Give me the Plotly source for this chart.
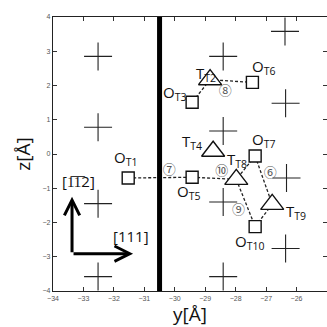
import plotly.graph_objects as go

# ---- data ----
cross_y = [-32.52, -32.52, -32.52, -32.52, -28.41, -28.41, -28.41, -28.41, -26.38, -26.36, -26.33, -26.36]
cross_z = [2.85, 0.78, -1.45, -3.58, 2.85, 0.67, -1.40, -3.58, 3.58, 1.48, -0.70, -2.76]

o_names = ["T1", "T3", "T5", "T6", "T7", "T10"]
o_y = [-31.53, -29.43, -29.43, -27.45, -27.36, -27.36]
o_z = [-0.70, 1.51, -0.68, 2.09, -0.06, -2.12]

t_names = ["T2", "T4", "T8", "T9"]
t_y = [-28.84, -28.74, -27.98, -26.80]
t_z = [2.17, 0.08, -0.74, -1.47]

# connections (dashed)
links = [("T1", "T5"), ("T5", "T8"), ("T2", "T6"), ("T2", "T3"),
         ("T7", "T8"), ("T8", "T10"), ("T7", "T9"), ("T9", "T10")]

circ_text = ["⑦", "⑧", "⑨", "⑥", "⑩"]
circ_y = [-30.18, -28.34, -27.91, -26.86, -28.46]
circ_z = [-0.49, 1.83, -1.66, -0.58, -0.53]

wall_y = -30.5
x_ticks = [-34, -33, -32, -31, -30, -29, -28, -27, -26, -25]
y_ticks = [-4, -3, -2, -1, 0, 1, 2, 3, 4]

arrow_origin = (-33.375, -2.91)
arrow_up_tip = (-33.375, -1.25)
arrow_right_tip = (-31.37, -2.91)

# ---- build ----
pos = {}
for n, a, b in zip(o_names, o_y, o_z):
    pos[n] = (a, b)
for n, a, b in zip(t_names, t_y, t_z):
    pos[n] = (a, b)

lx, lz = [], []
for a, b in links:
    lx += [pos[a][0], pos[b][0], None]
    lz += [pos[a][1], pos[b][1], None]

fig = go.Figure()
fig.add_trace(go.Scatter(x=lx, y=lz, mode="lines",
                         line=dict(color="#222", width=1.3, dash="3px,2px"),
                         hoverinfo="skip"))
fig.add_trace(go.Scatter(x=cross_y, y=cross_z, mode="markers",
                         marker=dict(symbol="cross-thin-open", size=20, color="#222",
                                     line=dict(color="#222", width=1.1))))

# circled numbers drawn before the open markers so markers sit on top
fig.add_trace(go.Scatter(x=circ_y, y=circ_z, mode="text", text=circ_text,
                         textfont=dict(family="Noto Sans CJK JP", size=13, color="#555"),
                         hoverinfo="skip"))

fig.add_trace(go.Scatter(x=o_y, y=o_z, mode="markers",
                         marker=dict(symbol="square", size=12, color="white",
                                     line=dict(color="#111", width=1.4))))
fig.add_trace(go.Scatter(x=t_y, y=t_z, mode="markers",
                         marker=dict(symbol="triangle-up", size=20, color="white",
                                     line=dict(color="#111", width=1.4))))

fig.add_shape(type="line", x0=wall_y, x1=wall_y, y0=-4, y1=4,
              line=dict(color="black", width=5))

label_font = dict(family="Open Sans", size=15, color="#111")
o_off = {"T1": (-3, 20), "T3": (-18, 9), "T5": (-4, -15), "T6": (11, 15),
         "T7": (8, 16), "T10": (-6, -15)}
t_off = {"T2": (-4, 6), "T4": (-21, 9), "T8": (1, 19), "T9": (24, -8)}

for n, a, b in zip(o_names, o_y, o_z):
    dx, dy = o_off[n]
    fig.add_annotation(x=a, y=b, text="O<sub>" + n + "</sub>", showarrow=False,
                       xshift=dx, yshift=dy, font=label_font)
for n, a, b in zip(t_names, t_y, t_z):
    dx, dy = t_off[n]
    fig.add_annotation(x=a, y=b, text="T<sub>" + n + "</sub>", showarrow=False,
                       xshift=dx, yshift=dy, font=label_font)

# direction arrows
for tip in (arrow_up_tip, arrow_right_tip):
    fig.add_annotation(x=tip[0], y=tip[1], ax=arrow_origin[0], ay=arrow_origin[1],
                       xref="x", yref="y", axref="x", ayref="y", text="",
                       showarrow=True, arrowhead=5, arrowwidth=3, arrowsize=1.0,
                       arrowcolor="black", standoff=0)
fig.add_annotation(x=-33.15, y=-0.8, text="[1\u03051\u03052]", showarrow=False,
                   font=dict(family="Open Sans", size=15, color="#111"))
fig.add_annotation(x=-31.45, y=-2.38, text="[111]", showarrow=False,
                   font=dict(family="Open Sans", size=15, color="#111"))

axis_common = dict(showgrid=False, zeroline=False, showline=True, linecolor="#222",
                   linewidth=1.2, mirror="ticks", ticks="inside", ticklen=4,
                   tickcolor="#333", tickwidth=1,
                   tickfont=dict(family="Liberation Sans", size=7, color="#555"))

fig.update_xaxes(range=[-34, -25], tickvals=x_ticks,
                 title=dict(text="y[Å]", font=dict(family="Open Sans", size=19, color="#111"),
                            standoff=2),
                 **axis_common)
fig.update_yaxes(range=[-4, 4], tickvals=y_ticks,
                 title=dict(text="z[Å]", font=dict(family="Open Sans", size=19, color="#111"),
                            standoff=6),
                 **axis_common)

fig.update_layout(width=327, height=327, showlegend=False,
                  margin=dict(l=53, r=0, t=17, b=36),
                  paper_bgcolor="white", plot_bgcolor="white")

fig.write_html("out.html", config={"displayModeBar": False},
               post_script="document.body.style.margin='0px';")
